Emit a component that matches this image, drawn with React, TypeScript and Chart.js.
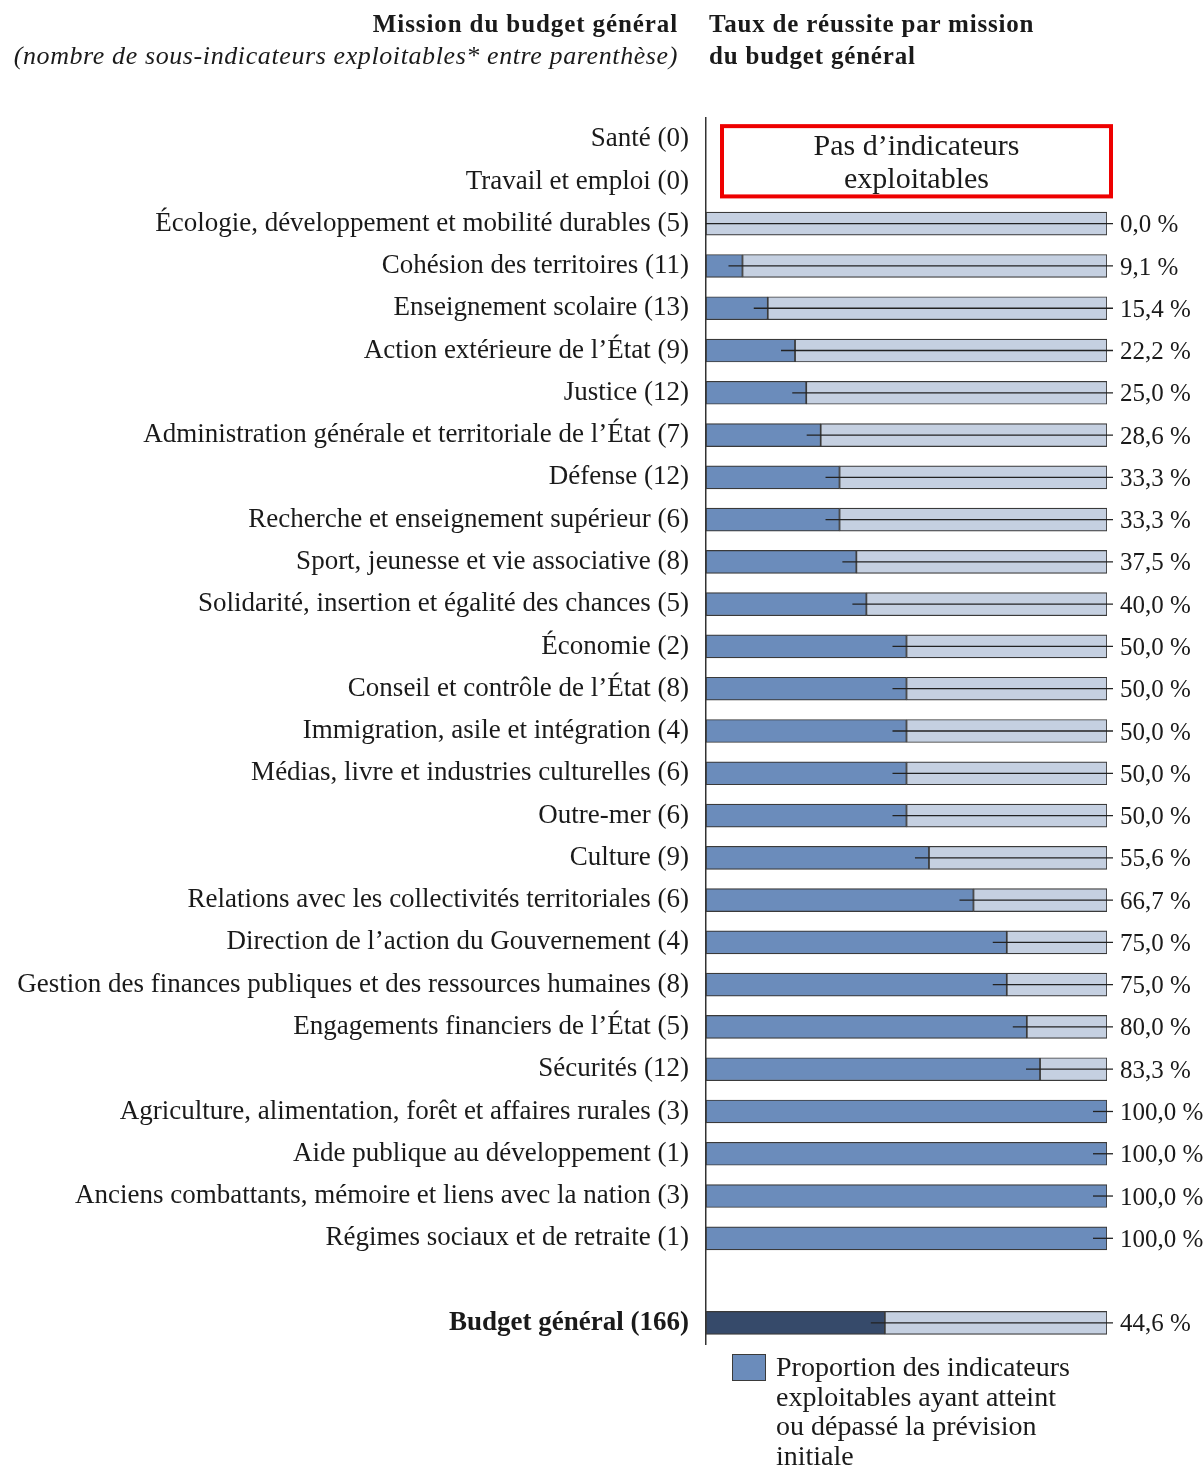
import React, { useEffect, useRef } from "react";
import { Chart, registerables } from "chart.js";
Chart.register(...registerables);

const missions: string[] = [
  "Santé (0)",
  "Travail et emploi (0)",
  "Écologie, développement et mobilité durables (5)",
  "Cohésion des territoires (11)",
  "Enseignement scolaire (13)",
  "Action extérieure de l’État (9)",
  "Justice (12)",
  "Administration générale et territoriale de l’État (7)",
  "Défense (12)",
  "Recherche et enseignement supérieur (6)",
  "Sport, jeunesse et vie associative (8)",
  "Solidarité, insertion et égalité des chances (5)",
  "Économie (2)",
  "Conseil et contrôle de l’État (8)",
  "Immigration, asile et intégration (4)",
  "Médias, livre et industries culturelles (6)",
  "Outre-mer (6)",
  "Culture (9)",
  "Relations avec les collectivités territoriales (6)",
  "Direction de l’action du Gouvernement (4)",
  "Gestion des finances publiques et des ressources humaines (8)",
  "Engagements financiers de l’État (5)",
  "Sécurités (12)",
  "Agriculture, alimentation, forêt et affaires rurales (3)",
  "Aide publique au développement (1)",
  "Anciens combattants, mémoire et liens avec la nation (3)",
  "Régimes sociaux et de retraite (1)",
  "",
  "Budget général (166)",
];

const rates: (number | null)[] = [
  null, null, 0, 9.1, 15.4, 22.2, 25.0, 28.6, 33.3, 33.3, 37.5, 40.0, 50.0, 50.0,
  50.0, 50.0, 50.0, 55.6, 66.7, 75.0, 75.0, 80.0, 83.3, 100.0, 100.0, 100.0, 100.0,
  null, 44.6,
];

const totalIndex = 28;
const noDataText = ["Pas d’indicateurs", "exploitables"];
const legendText = ["Proportion des indicateurs", "exploitables ayant atteint", "ou dépassé la prévision", "initiale"];

const FONT = '"Liberation Serif", serif';
const C_MID = "#6b8cbb";
const C_LIGHT = "#c5d0e1";
const C_DARK = "#364a6a";
const C_BORDER = "#3a3a3a";

const fmt = (v: number) => v.toFixed(1).replace(".", ",") + " %";

const overlay = {
  id: "overlay",
  afterDatasetsDraw(chart: any) {
    const { ctx, scales } = chart;
    const x = scales.x, y = scales.y;
    ctx.save();
    const xe = x.getPixelForValue(100);
    rates.forEach((v, i) => {
      if (v == null) return;
      const yc = y.getPixelForValue(i);
      const xv = x.getPixelForValue(v);
      ctx.strokeStyle = "#222";
      ctx.lineWidth = 1.3;
      ctx.beginPath();
      ctx.moveTo(Math.max(xv - 14, x.left), yc);
      ctx.lineTo(xe + 6, yc);
      ctx.stroke();
      ctx.fillStyle = "#1a1a1a";
      ctx.font = `25px ${FONT}`;
      ctx.textBaseline = "middle";
      ctx.textAlign = "left";
      ctx.fillText(fmt(v), xe + 13, yc + 2);
    });
    // red "no data" box
    const y0 = y.getPixelForValue(0), y1 = y.getPixelForValue(1);
    const l = x.getPixelForValue(0) + 16, r = xe + 4;
    const t = y0 - 13, b = y1 + 15;
    ctx.strokeStyle = "#ee0000";
    ctx.lineWidth = 4;
    ctx.strokeRect(l, t, r - l, b - t);
    ctx.fillStyle = "#1a1a1a";
    ctx.font = `30px ${FONT}`;
    ctx.textAlign = "center";
    ctx.textBaseline = "middle";
    ctx.fillText(noDataText[0], (l + r) / 2, y0 + 8);
    ctx.fillText(noDataText[1], (l + r) / 2, y1 - 1);
    ctx.restore();
  },
};

export default function App() {
  const ref = useRef<HTMLCanvasElement | null>(null);
  useEffect(() => {
    document.body.style.margin = "0";
    const achieved = rates.map((v) => (v == null ? null : v));
    const remaining = rates.map((v) => (v == null ? null : 100 - v));
    const chart = new Chart(ref.current as HTMLCanvasElement, {
      type: "bar",
      data: {
        labels: missions,
        datasets: [
          {
            data: achieved as any,
            backgroundColor: missions.map((_, i) => (i === totalIndex ? C_DARK : C_MID)),
            borderColor: C_BORDER,
            borderWidth: 1.2,
            borderSkipped: false,
            barThickness: 23,
          },
          {
            data: remaining as any,
            backgroundColor: C_LIGHT,
            borderColor: C_BORDER,
            borderWidth: 1.2,
            borderSkipped: false,
            barThickness: 23,
          },
        ],
      },
      options: {
        indexAxis: "y",
        animation: false,
        responsive: false,
        layout: { padding: { top: 118, bottom: 122, right: 97, left: 0 } },
        scales: {
          x: { stacked: true, min: 0, max: 100, display: false },
          y: {
            stacked: true,
            grid: { display: false, drawTicks: false },
            border: { display: true, color: "#333", width: 1.5 },
            afterFit: (s: any) => {
              s.width = 706;
            },
            ticks: {
              autoSkip: false,
              padding: 17,
              color: "#1a1a1a",
              font: (c: any) => ({
                family: FONT,
                size: 27,
                weight: c.index === totalIndex ? "bold" : "normal",
              }),
            },
          },
        },
        plugins: { legend: { display: false }, tooltip: { enabled: false } },
      },
      plugins: [overlay],
    });
    return () => chart.destroy();
  }, []);

  const hdr: React.CSSProperties = {
    position: "absolute",
    fontFamily: FONT,
    fontSize: 25,
    color: "#1a1a1a",
    lineHeight: "32px",
    whiteSpace: "nowrap",
  };

  return (
    <div style={{ position: "relative", width: 1204, height: 1466 }}>
      <canvas ref={ref} width={1204} height={1466} style={{ display: "block" }} />
      <div style={{ ...hdr, right: 1204 - 678, top: 8, textAlign: "right" }}>
        <div style={{ fontWeight: "bold", letterSpacing: 0.9 }}>Mission du budget général</div>
        <div style={{ fontStyle: "italic", fontSize: 26, letterSpacing: 0.6 }}>
          (nombre de sous-indicateurs exploitables* entre parenthèse)
        </div>
      </div>
      <div style={{ ...hdr, left: 709, top: 8, fontWeight: "bold", letterSpacing: 0.8 }}>
        <div>Taux de réussite par mission</div>
        <div>du budget général</div>
      </div>
      <div
        style={{
          position: "absolute",
          left: 732,
          top: 1354,
          width: 32,
          height: 25,
          background: C_MID,
          border: `1.5px solid ${C_BORDER}`,
        }}
      />
      <div style={{ ...hdr, left: 776, top: 1352, fontSize: 28, lineHeight: "29.5px" }}>
        {legendText.map((t, i) => (
          <div key={i}>{t}</div>
        ))}
      </div>
    </div>
  );
}
